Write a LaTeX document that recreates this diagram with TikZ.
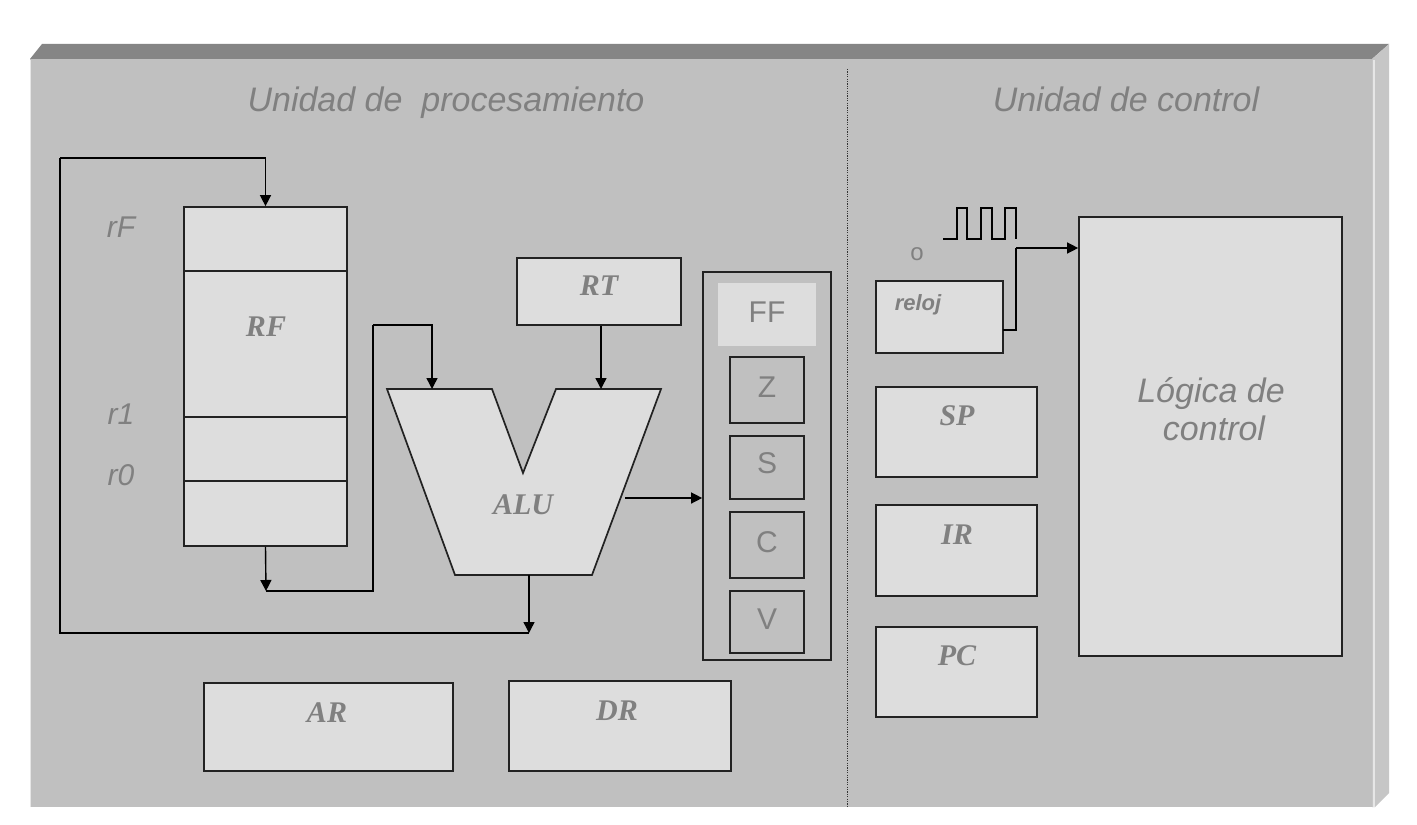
\documentclass[tikz,border=0pt]{standalone}
\usepackage{fontspec}
\setmainfont{Liberation Serif}
\newfontfamily\robo{Liberation Sans}
\usetikzlibrary{arrows.meta,fit}
\definecolor{facegray}{HTML}{C0C0C0}
\definecolor{bevelgray}{HTML}{858585}
\definecolor{sidegray}{HTML}{C6C6C6}
\definecolor{hilite}{HTML}{E6E6E6}
\definecolor{boxfill}{HTML}{DDDDDD}
\definecolor{txtgray}{HTML}{808080}
\definecolor{edge}{HTML}{222222}
\tikzset{
  box/.style={draw=edge, fill=boxfill, line width=0.85pt, inner sep=0pt},
  flagbox/.style={draw=edge, fill=facegray, line width=0.85pt, inner sep=0pt},
  conn/.style={draw=black, line width=0.7pt},
  arr/.style={conn, -{Triangle[length=5.5pt,width=5.5pt]}},
  title/.style={font=\robo\itshape\fontsize{17}{20}\selectfont, text=txtgray, inner sep=0pt},
  reglab/.style={font=\robo\itshape\fontsize{15}{18}\selectfont, text=txtgray, inner sep=0pt},
  flaglab/.style={font=\robo\fontsize{15}{18}\selectfont, text=txtgray, inner sep=0pt},
  tlab/.style={font=\bfseries\itshape\fontsize{15}{18}\selectfont, text=txtgray, inner sep=0pt}
}
\begin{document}
\begin{tikzpicture}[x=0.5pt,y=-0.5pt]
\useasboundingbox (0,0) rectangle (1417,824);
% panel
\fill[white] (0,0) rectangle (1417,824);
\fill[facegray] (30,59) rectangle (1372,807);
\fill[bevelgray] (30,59) -- (42,44) -- (1389,44) -- (1372,59) -- cycle;
\fill[sidegray] (1372,59) -- (1389,44) -- (1389,793) -- (1375,807) -- (1372,807) -- cycle;
\draw[hilite, line width=1pt] (1373.5,60) -- (1373.5,807);
\draw[hilite, line width=0.6pt] (30.5,60) -- (30.5,807);
% divider
\draw[black!80, line width=0.5pt, dash pattern=on 0.6pt off 0.6pt] (847,69) -- (847,807);
% titles
\node[title, anchor=base] (t1) at (446,112) {Unidad de\ \ procesamiento};
\node[title, anchor=base] (t2) at (1126,112) {Unidad de control};
% register file
\node[box, fit={(184,207) (347,546)}] (rf) {};
\draw[edge, line width=0.85pt] (184,271) -- (347,271) (184,417) -- (347,417) (184,481) -- (347,481);
\node[tlab, anchor=base] (rflab) at (266,336) {RF};
\node[reglab, anchor=base] (rF) at (121,237) {rF};
\node[reglab, anchor=base] (r1) at (121,424) {r1};
\node[reglab, anchor=base] (r0) at (121,485) {r0};
% RT
\node[box, fit={(517,258) (681,325)}] (rt) {};
\node[tlab, anchor=base] (rtlab) at (599,295) {RT};
% ALU
\draw[box] (387,389) -- (492,389) -- (523,473) -- (556,389) -- (661,389) -- (592,575) -- (455,575) -- cycle;
\node[tlab, anchor=base] (alu) at (523,514) {ALU};
\coordinate (alua) at (432,389);
\coordinate (alub) at (601,389);
\coordinate (aluo) at (625,498);
\coordinate (aluc) at (529,575);
% flags
\node[draw=edge, line width=0.85pt, inner sep=0pt, fit={(703,272) (831,660)}] (flags) {};
\node[fill=boxfill, inner sep=0pt, fit={(718,283) (816,346)}] (ff) {};
\node[flaglab, anchor=base] (fflab) at (767,322) {FF};
\node[flagbox, fit={(730,357) (804,423)}] (z) {};
\node[flaglab, anchor=base] (zlab) at (767,397) {Z};
\node[flagbox, fit={(730,436) (804,499)}] (s) {};
\node[flaglab, anchor=base] (slab) at (767,473) {S};
\node[flagbox, fit={(730,512) (804,578)}] (c) {};
\node[flaglab, anchor=base] (clab) at (767,552) {C};
\node[flagbox, fit={(730,591) (804,653)}] (v) {};
\node[flaglab, anchor=base] (vlab) at (767,629) {V};
% AR DR
\node[box, fit={(204,683) (453,771)}] (ar) {};
\node[tlab, anchor=base] (arlab) at (327,722) {AR};
\node[box, fit={(509,681) (731,771)}] (dr) {};
\node[tlab, anchor=base] (drlab) at (617,720) {DR};
% connectors, processing unit
\coordinate (rfo) at (266,591);
\coordinate (c1) at (373,325);
\coordinate (fb) at (529,633);
\coordinate (c2) at (60,158);
\draw[arr] (rf.south) -- (rfo);
\draw[conn] (rfo) -| (c1);
\draw[arr] (c1) -| (alua);
\draw[arr] (rt.south -| alub) -- (alub);
\draw[arr] (aluo) -- (aluo -| flags.west);
\draw[arr] (aluc) -- (fb);
\draw[conn] (fb) -| (c2);
\draw[arr] (c2) -| (rf.north);
% control unit
\node[box, fit={(876,281) (1003,353)}] (reloj) {};
\node[font=\robo\bfseries\itshape\fontsize{11}{13}\selectfont, text=txtgray, inner sep=0pt, anchor=base] (rellab) at (918,310) {reloj};
\node[font=\robo\fontsize{12}{14}\selectfont, text=txtgray, inner sep=0pt, anchor=base] (o) at (917,260) {o};
\draw[conn, line width=0.6pt] (943,239) -- (957,239) -- (957,208) -- (967,208) -- (967,239) -- (981,239) -- (981,208) -- (992,208) -- (992,239) -- (1005,239) -- (1005,208) -- (1016,208) -- (1016,239);
\node[box, fit={(1079,217) (1342,656)}] (logic) {};
\node[title, anchor=base] (lg1) at (1211,402) {Lógica de};
\node[title, anchor=base] (lg2) at (1214,440) {control};
\coordinate (ck) at (1003,330);
\coordinate (ck2) at (1016,248);
\draw[conn] (ck) -| (ck2);
\draw[arr] (ck2) -- (ck2 -| logic.west);
\node[box, fit={(876,387) (1037,477)}] (sp) {};
\node[tlab, anchor=base] (splab) at (957,425) {SP};
\node[box, fit={(876,505) (1037,596)}] (ir) {};
\node[tlab, anchor=base] (irlab) at (957,544) {IR};
\node[box, fit={(876,627) (1037,717)}] (pc) {};
\node[tlab, anchor=base] (pclab) at (957,665) {PC};
\end{tikzpicture}
\end{document}
